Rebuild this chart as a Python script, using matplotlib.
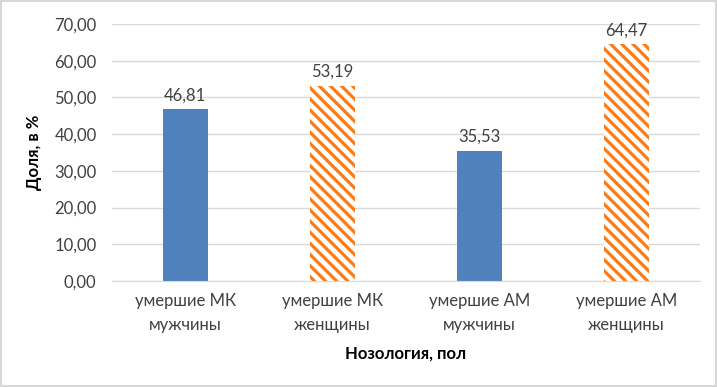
import matplotlib
matplotlib.use("Agg")
import matplotlib.pyplot as plt
from matplotlib.patches import Rectangle

categories = ["умершие МК\nмужчины", "умершие МК\nженщины",
              "умершие АМ\nмужчины", "умершие АМ\nженщины"]
values = [46.81, 53.19, 35.53, 64.47]
hatched = [False, True, False, True]
yticks = [0, 10, 20, 30, 40, 50, 60, 70]

plt.rcParams['font.family'] = ['Lato', 'DejaVu Sans']
plt.rcParams['hatch.linewidth'] = 2.3
plt.rcParams['hatch.color'] = '#ff7f0e'

blue = '#4f81bd'
orange = '#ff7a12'
txt = '#404040'

fig = plt.figure(figsize=(7.17, 3.87), dpi=100)
ax = fig.add_axes([0.156, 0.274, 0.82, 0.664])

x = range(len(categories))
for i, (v, h) in enumerate(zip(values, hatched)):
    if h:
        ax.bar(i, v, width=0.31, color='white', edgecolor=orange, hatch='\\\\\\', linewidth=0, zorder=2)
    else:
        ax.bar(i, v, width=0.31, color=blue, linewidth=0, zorder=2)
    ax.text(i, v + 1.6, f"{v:.2f}".replace('.', ','), ha='center', va='bottom',
            fontsize=12, color=txt)

ax.set_xlim(-0.5, 3.5)
ax.set_ylim(0, 70)
ax.set_yticks(yticks)
ax.set_yticklabels([f"{t:.2f}".replace('.', ',') for t in yticks], fontsize=12, color=txt)
ax.set_xticks(list(x))
ax.set_xticklabels(categories, fontsize=12, color=txt, linespacing=1.55)
ax.tick_params(length=0)
ax.tick_params(axis='x', pad=9)
ax.tick_params(axis='y', pad=11)
ax.grid(axis='y', color='#d9d9d9', linewidth=1, zorder=0)
for s in ['top', 'right', 'left']:
    ax.spines[s].set_visible(False)
ax.spines['bottom'].set_color('#d9d9d9')
ax.set_ylabel("Доля, в %", fontsize=12, fontweight='bold', color='black', labelpad=9)
ax.set_xlabel("Нозология, пол", fontsize=12, fontweight='bold', color='black', labelpad=9)

fig.patches.append(Rectangle((0.002, 0.003), 0.996, 0.994, transform=fig.transFigure,
                             fill=False, edgecolor='#d0d0d0', linewidth=1.2))

fig.savefig("out.png", dpi=100)
